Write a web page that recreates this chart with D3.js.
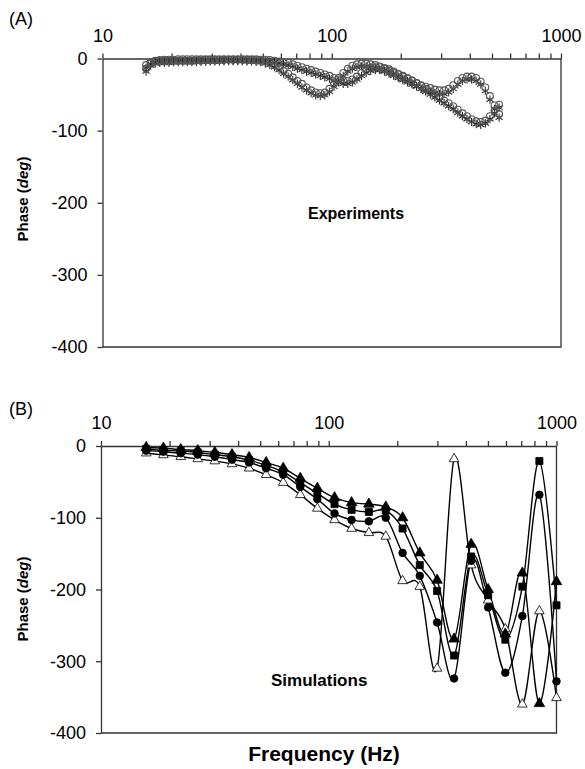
<!DOCTYPE html>
<html><head><meta charset="utf-8">
<script src="https://cdn.jsdelivr.net/npm/d3@7"></script>
<style>
html,body{margin:0;padding:0;background:#fff;}
svg{display:block;font-family:"Liberation Sans",Arial,Helvetica,sans-serif;}
</style></head><body>
<svg id="chart" width="585" height="769"></svg>
<script>
// ---- axis ticks ----
const freqMajor = [10, 100, 1000];
const freqMinor = [20, 30, 40, 50, 60, 70, 80, 90, 200, 300, 400, 500, 600, 700, 800, 900];
const phaseTicks = [0, -100, -200, -300, -400];

// ---- (A) measured phase, log-spaced frequencies (Hz) ----
const expFreq = [15.49, 16.22, 16.98, 17.78, 18.62, 19.50, 20.42, 21.38, 22.39, 23.44,
  24.55, 25.70, 26.92, 28.18, 29.51, 30.90, 32.36, 33.88, 35.48, 37.15,
  38.90, 40.74, 42.66, 44.67, 46.77, 48.98, 51.29, 53.70, 56.23, 58.88,
  61.66, 64.57, 67.61, 70.79, 74.13, 77.62, 81.28, 85.11, 89.13, 93.33,
  97.72, 102.3, 107.2, 112.2, 117.5, 123.0, 128.8, 134.9, 141.3, 147.9,
  154.9, 162.2, 169.8, 177.8, 186.2, 195.0, 204.2, 213.8, 223.9, 234.4,
  245.5, 257.0, 269.2, 281.8, 295.1, 309.0, 323.6, 338.8, 354.8, 371.5,
  389.0, 407.4, 426.6, 446.7, 467.7, 489.8, 512.9, 537.0];
const expRun1Circles = [-14,-7,-4,-3,-3,-3,-3,-3,-3,-3,
  -3,-2.5,-2.5,-2,-2,-2,-2,-1.5,-1.5,-1.5,
  -1.5,-1.5,-1.5,-2,-2,-3,-4,-6,-9,-13,
  -17,-21,-26,-31,-35,-40,-44,-47,-48,-47,
  -42,-35,-27,-20,-14,-10,-8,-7,-7,-8,
  -9,-11,-14,-17,-20,-22,-25,-28,-31,-34,
  -37,-39,-41,-43,-44,-44,-42,-37,-31,-27,
  -25,-25,-27,-32,-40,-52,-65,-77];
const expRun1Stars = [-18,-10,-7,-6,-6,-6,-5,-5,-5,-5,
  -5,-5,-4.5,-4.5,-4,-4,-4,-3.5,-3.5,-3.5,
  -3.5,-3.5,-4,-4,-4.5,-5,-7,-9,-12,-16,
  -21,-25,-30,-35,-40,-44,-48,-51,-52,-51,
  -46,-39,-31,-24,-18,-14,-12,-11,-11,-12,
  -13,-15,-18,-21,-24,-27,-30,-33,-36,-39,
  -42,-44,-46,-48,-49,-49,-47,-42,-36,-31,
  -29,-29,-31,-36,-45,-57,-70,-82];
const expRun2Circles = [-9,-5,-3,-2,-1.5,-1.5,-1.5,-1,-1,-1,
  -1,-1,-1,-1,-1,-1,-1,-1,-1,-1,
  -1,-1,-1,-1,-1,-1.5,-1.5,-2,-3,-4,
  -5,-6,-8,-10,-12,-14,-16,-18,-20,-22,
  -24,-27,-29,-31,-31,-29,-25,-20,-16,-13,
  -12,-12,-13,-15,-18,-21,-24,-27,-30,-34,
  -38,-42,-46,-50,-54,-58,-62,-66,-71,-76,
  -80,-84,-87,-88,-86,-80,-72,-64];
const expRun2Stars = [-13,-8,-5,-4,-3.5,-3.5,-3.5,-3,-3,-3,
  -3,-3,-3,-3,-3,-3,-3,-3,-3,-3,
  -3,-3,-3,-3,-3,-3.5,-3.5,-4,-5,-6.5,
  -8,-9.5,-11.5,-14,-16,-18,-20,-22,-24,-26,
  -28,-31,-33,-35,-35,-33,-29,-24,-20,-17,
  -16,-16,-17,-19,-22,-25,-28,-31,-34,-38,
  -42,-46,-50,-54,-58,-62,-66,-70,-75,-80,
  -84,-88,-91,-92,-90,-84,-76,-68];

// ---- (B) simulated phase at quarter-octave frequencies (Hz) ----
const simFreq = [15.8, 18.8, 22.4, 26.6, 31.6, 37.6, 44.7, 53.1, 63.1, 75.0,
  89.1, 106, 126, 150, 178, 211, 251, 299, 355, 422, 501, 596, 708, 841, 1000];
const simTriangles = [-2,-3,-5,-6.5,-9,-12,-16,-23,-31,-45,-59,-72,-79,-81,-85,-100,-149,-187,-269,-137,-200,-262,-177,-359,-189];
const simSquares = [-4,-6,-7,-9,-12,-15,-20,-27,-36,-51,-66,-81,-89,-92,-90,-115,-166,-202,-292,-154,-208,-270,-196,-21,-222];
const simCircles = [-6.5,-8,-10,-12,-15,-19,-23,-31,-40,-57,-74,-94,-103,-105,-100,-149,-181,-246,-324,-160,-225,-316,-237,-68,-328];
const simOpenTriangles = [-10,-12.5,-15,-18,-21,-25,-31,-40,-51,-68,-87,-103,-115,-121,-126,-188,-196,-310,-18,-166,-215,-255,-360,-230,-351];

const svg = d3.select("#chart");
const axisColor = "#333";

function drawFrame(g, x, y, cfg) {
  const [x0, x1] = x.range();
  const [yb, yt] = y.range();
  // top frequency axis with decade labels
  const xa = d3.axisTop(x)
    .tickValues(freqMajor.concat(freqMinor))
    .tickSize(5).tickSizeOuter(0).tickPadding(12)
    .tickFormat(d => freqMajor.includes(d) ? String(d) : "");
  const gx = g.append("g").attr("transform", `translate(0,${yt})`).call(xa);
  gx.selectAll("text").attr("font-size", 18).attr("fill", "#000")
    .attr("font-family", "'Liberation Sans',Arial,sans-serif");
  // left phase axis
  const ya = d3.axisLeft(y).tickValues(phaseTicks)
    .tickSize(5).tickSizeOuter(0).tickPadding(10)
    .tickFormat(d => String(d));
  const gy = g.append("g").attr("transform", `translate(${x0},0)`).call(ya);
  gy.selectAll("text").attr("font-size", 18).attr("fill", "#000")
    .attr("font-family", "'Liberation Sans',Arial,sans-serif");
  g.selectAll(".domain, .tick line").attr("stroke", axisColor).attr("stroke-width", 1.3);
  // closing right and bottom edges
  g.append("path")
    .attr("d", `M${x1},${yt}V${yb}H${x0}`)
    .attr("fill", "none").attr("stroke", axisColor).attr("stroke-width", 1.3);
  // y title
  const t = g.append("text")
    .attr("transform", `translate(${cfg.ytx},${cfg.yty}) rotate(-90)`)
    .attr("text-anchor", "middle").attr("font-size", 15).attr("font-weight", "bold");
  t.append("tspan").text("Phase (");
  t.append("tspan").attr("font-style", "italic").text("deg");
  t.append("tspan").text(")");
  // panel letter
  g.append("text").attr("x", 9).attr("y", cfg.letterY)
    .attr("font-size", 18).text(cfg.letter);
}

// ===== Panel A =====
const xA = d3.scaleLog().domain([10, 1000]).range([102.5, 561]);
const yA = d3.scaleLinear().domain([-400, 0]).range([347, 58.5]);
const gA = svg.append("g");
drawFrame(gA, xA, yA, { ytx: 28, yty: 199, letter: "(A)", letterY: 25 });

const starSym = d3.symbol().type(d3.symbolAsterisk || d3.symbolCross).size(48);
function expStars(vals, color) {
  gA.append("g").selectAll("path").data(vals).join("path")
    .attr("transform", (d, i) => `translate(${xA(expFreq[i])},${yA(d)})`)
    .attr("d", starSym).attr("fill", "none").attr("stroke", color).attr("stroke-width", 1.1);
}
function expCircles(vals, color) {
  gA.append("g").selectAll("circle").data(vals).join("circle")
    .attr("cx", (d, i) => xA(expFreq[i])).attr("cy", d => yA(d)).attr("r", 3.4)
    .attr("fill", "none").attr("stroke", color).attr("stroke-width", 1.1);
}
expStars(expRun2Stars, "#222");
expStars(expRun1Stars, "#333");
expCircles(expRun2Circles, "#555");
expCircles(expRun1Circles, "#555");

gA.append("text").attr("x", 308).attr("y", 219)
  .attr("font-size", 16).attr("font-weight", "bold").text("Experiments");

// ===== Panel B =====
const xB = d3.scaleLog().domain([10, 1000]).range([101, 556.5]);
const yB = d3.scaleLinear().domain([-400, 0]).range([733, 446]);
const gB = svg.append("g");
drawFrame(gB, xB, yB, { ytx: 28, yty: 599, letter: "(B)", letterY: 415 });

const line = d3.line().x((d, i) => xB(simFreq[i])).y(d => yB(d))
  .curve(d3.curveCardinal.tension(0));
const simSeries = [
  { vals: simOpenTriangles, sym: d3.symbolTriangle, size: 40, fill: "#fff" },
  { vals: simCircles, sym: d3.symbolCircle, size: 46, fill: "#000" },
  { vals: simSquares, sym: d3.symbolSquare, size: 50, fill: "#000" },
  { vals: simTriangles, sym: d3.symbolTriangle, size: 48, fill: "#000" }
];
simSeries.forEach(s => {
  gB.append("path").datum(s.vals).attr("d", line)
    .attr("fill", "none").attr("stroke", "#000").attr("stroke-width", 1.4);
});
simSeries.forEach(s => {
  gB.append("g").selectAll("path").data(s.vals).join("path")
    .attr("transform", (d, i) => `translate(${xB(simFreq[i])},${yB(d)})`)
    .attr("d", d3.symbol().type(s.sym).size(s.size))
    .attr("fill", s.fill).attr("stroke", "#000").attr("stroke-width", 0.8);
});

gB.append("text").attr("x", 271).attr("y", 686)
  .attr("font-size", 17).attr("font-weight", "bold").text("Simulations");
gB.append("text").attr("x", 324).attr("y", 761).attr("text-anchor", "middle")
  .attr("font-size", 21).attr("font-weight", "bold").text("Frequency (Hz)");
</script></body></html>
